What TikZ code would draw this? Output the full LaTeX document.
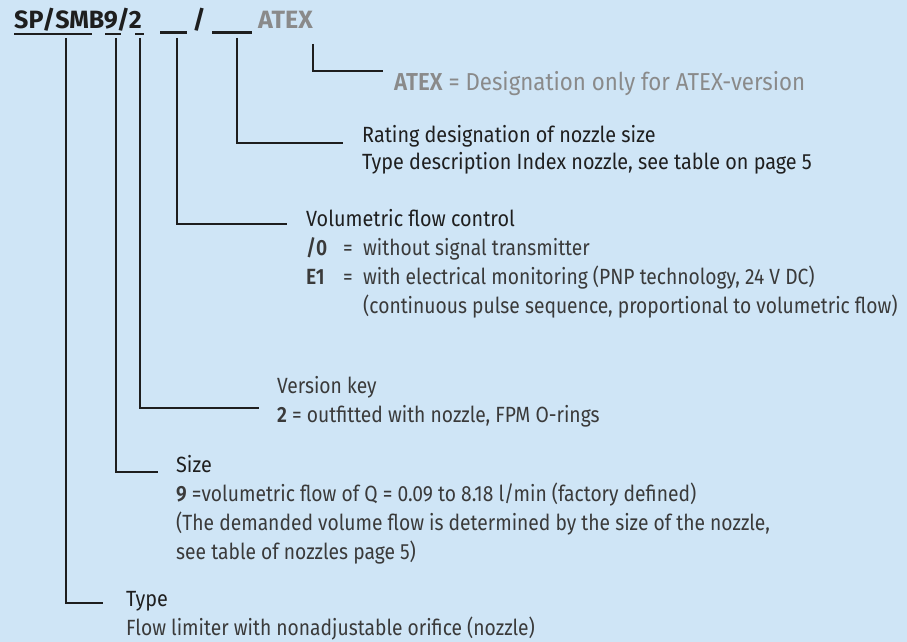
\documentclass[tikz,border=0pt]{standalone}
\usepackage{fontspec}
\setmainfont{Fira Sans}[FakeStretch=0.875,BoldFont={* SemiBold}]
\newfontfamily\headfont{Fira Sans}[FakeStretch=0.9]
\newfontfamily\atexfont{Fira Sans}[FakeStretch=0.91,BoldFont={* SemiBold}]
\newfontfamily\titlefont{Fira Sans}[BoldFont={* Bold}]
\usetikzlibrary{positioning}
\definecolor{bgBlue}{HTML}{CFE5F6}
\definecolor{txDark}{HTML}{3A3A3A}
\definecolor{txHead}{HTML}{1F1F1F}
\definecolor{txGray}{HTML}{8A8A8A}
\definecolor{lnDark}{HTML}{1E1E1E}

\begin{document}
\begin{tikzpicture}[x=1pt,y=-1pt,
  lbl/.style={inner sep=0pt,anchor=base west,text=txDark,font=\fontsize{22}{29}\selectfont},
  ttl/.style={lbl,text=lnDark,font=\titlefont\bfseries\fontsize{25}{30}\selectfont},
  lead/.style={draw=lnDark,line width=2.3pt},
  uline/.style={draw=lnDark,line width=2pt},
  blank/.style={draw=lnDark,line width=3pt}]
\fill[bgBlue] (0,0) rectangle (907,642);
\useasboundingbox (0,0) rectangle (907,642);

\node[ttl] (code) at (14,29) {SP/SMB9/2};
\node[ttl,anchor=base] (slash) at (199,29) {/};
\node[ttl,text=txGray] (atex) at (258,29) {ATEX};
\draw[uline] (14,34) -- (92,34);
\draw[uline] (105,34) -- (121,34);
\draw[uline] (135,34) -- (144,34);
\draw[blank] (160,33) -- (187,33);
\draw[blank] (212,33) -- (252,33);

\coordinate (kType) at (66,38);
\coordinate (kSize) at (116,38);
\coordinate (kVer) at (140,38);
\coordinate (kFlow) at (177,38);
\coordinate (kRate) at (237,38);
\coordinate (kAtex) at (313,44);

\node[lbl,text=txGray,font=\atexfont\fontsize{24.5}{29}\selectfont] (atexd) at (394,90)
  {\textbf{ATEX} = Designation only for ATEX-version};
\node[lbl,text=txHead,font=\headfont\fontsize{22}{27}\selectfont] (rate) at (362,142)
  {\begin{tabular}[t]{@{}l@{}}Rating designation of nozzle size\\
   Type description Index nozzle, see table on page 5\end{tabular}};
\node[lbl] (flow) at (306,226)
  {\begin{tabular}[t]{@{}l@{}}{\headfont\color{txHead}Volumetric flow control}\\
   \makebox[37pt][l]{\textbf{/0}}\makebox[20pt][l]{=}without signal transmitter\\
   \makebox[37pt][l]{\textbf{E1}}\makebox[20pt][l]{=}with electrical monitoring (PNP technology, 24 V DC)\\
   \hspace*{57pt}(continuous pulse sequence, proportional to volumetric flow)\end{tabular}};
\node[lbl] (ver) at (277,393)
  {\begin{tabular}[t]{@{}l@{}}Version key\\
   \textbf{2} = outfitted with nozzle, FPM O-rings\end{tabular}};
\node[lbl] (size) at (176,472)
  {\begin{tabular}[t]{@{}l@{}}{\headfont\color{txHead}Size}\\
   \textbf{9} =volumetric flow of Q = 0.09 to 8.18 l/min (factory defined)\\
   (The demanded volume flow is determined by the size of the nozzle,\\
   see table of nozzles page 5)\end{tabular}};
\node[lbl] (type) at (126,606)
  {\begin{tabular}[t]{@{}l@{}}{\headfont\color{txHead}Type}\\
   Flow limiter with nonadjustable orifice (nozzle)\end{tabular}};

\draw[lead] (kAtex) |- ([xshift=-11pt,yshift=19pt]atexd.base west);
\draw[lead] (kRate) |- ([xshift=-19pt,yshift=-1pt]rate.base west);
\draw[lead] (kFlow) |- ([xshift=-19pt,yshift=2pt]flow.base west);
\draw[lead] (kVer) |- ([xshift=-18pt,yshift=-15pt]ver.base west);
\draw[lead] (kSize) |- ([xshift=-18pt]size.base west);
\draw[lead] (kType) |- ([xshift=-23pt,yshift=3pt]type.base west);
\end{tikzpicture}
\end{document}
